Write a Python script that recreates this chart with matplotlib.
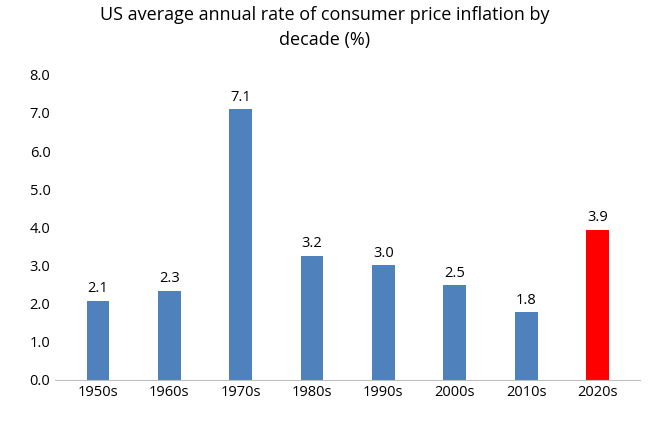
import matplotlib.pyplot as plt

plt.rcParams['font.family'] = ['Open Sans', 'DejaVu Sans']

decades = ['1950s', '1960s', '1970s', '1980s', '1990s', '2000s', '2010s', '2020s']
rates = [2.07, 2.33, 7.1, 3.25, 3.0, 2.48, 1.77, 3.93]
labels = ['2.1', '2.3', '7.1', '3.2', '3.0', '2.5', '1.8', '3.9']
colors = ['#4F81BD'] * 7 + ['#FF0000']

fig = plt.figure(figsize=(6.5, 4.23), dpi=100)
ax = fig.add_axes([0.085, 0.102, 0.9, 0.721])

x = range(len(decades))
bars = ax.bar(x, rates, width=0.32, color=colors)
for b, lab in zip(bars, labels):
    ax.text(b.get_x() + b.get_width() / 2, b.get_height() + 0.12, lab,
            ha='center', va='bottom', fontsize=10.5)

ax.set_xticks(list(x))
ax.set_xticklabels(decades, fontsize=10.5)
ax.set_ylim(0, 8)
ax.set_xlim(-0.6, 7.6)
ax.set_yticks([i for i in range(9)])
ax.set_yticklabels([f'{i:.1f}' for i in range(9)], fontsize=10.5)
ax.tick_params(length=0)
for s in ['top', 'right', 'left']:
    ax.spines[s].set_visible(False)
ax.spines['bottom'].set_color('#BFBFBF')

fig.suptitle('US average annual rate of consumer price inflation by\ndecade (%)',
             fontsize=13, y=0.985, linespacing=1.5)

fig.savefig('out.png')
